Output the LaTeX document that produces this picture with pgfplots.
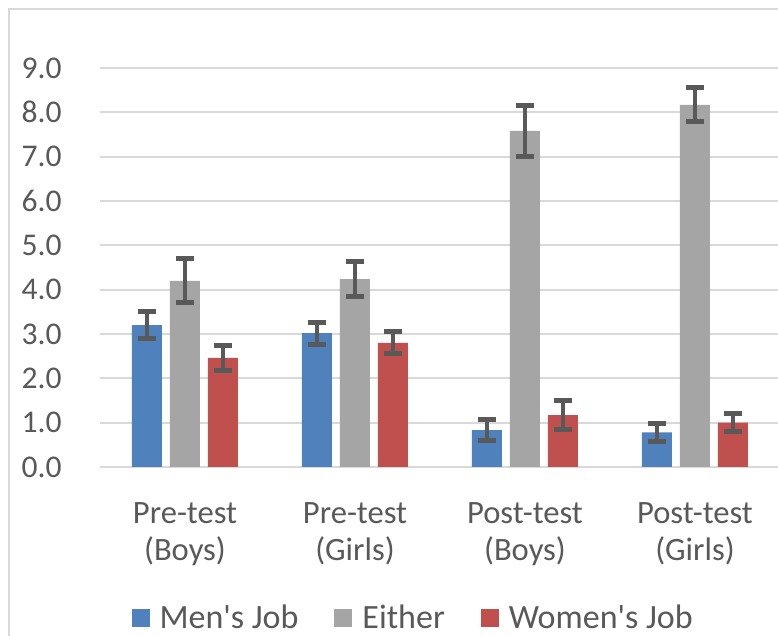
\documentclass[border=0pt]{standalone}
\usepackage{pgfplots}
\pgfplotsset{compat=1.18}
\usepackage{fontspec}
\setmainfont{Carlito}[Ligatures=TeXOff]
\definecolor{cblue}{HTML}{4F81BD}
\definecolor{cgray}{HTML}{A5A5A5}
\definecolor{cred}{HTML}{C0504D}
\definecolor{ctext}{HTML}{595959}
\definecolor{cgrid}{HTML}{D9D9D9}
\definecolor{cerr}{HTML}{595959}
\begin{document}
\begin{tikzpicture}
\useasboundingbox (0,0) rectangle (389pt,318pt);
\clip (0,0) rectangle (389pt,318pt);
\fill[white] (0,0) rectangle (389pt,318pt);
\draw[cgrid, line width=1pt] (4.5pt,-20pt) -- (4.5pt,313.5pt) -- (420pt,313.5pt);
\begin{axis}[
  at={(50pt,84.5pt)}, anchor=south west,
  scale only axis, width=340pt, height=199.5pt,
  xmin=-0.5, xmax=3.5, ymin=0, ymax=9,
  axis line style={draw=none},
  ymajorgrids, grid style={cgrid, line width=1pt},
  ytick={0,1,...,9},
  yticklabel style={anchor=east, inner sep=0pt, xshift=-19pt, text=ctext, font=\fontsize{15.8}{18}\selectfont},
  /pgf/number format/assume math mode=true,
  /pgf/number format/.cd, fixed, fixed zerofill, precision=1, /pgfplots/.cd,
  xtick={0,1,2,3},
  xticklabels={Pre-test\\(Boys), Pre-test\\(Girls), Post-test\\(Boys), Post-test\\(Girls)},
  xticklabel style={align=center, anchor=north, inner sep=0pt, yshift=-17.5pt, text=ctext, font=\fontsize{16.3}{18.5}\selectfont},
  major tick length=0pt,
  ybar=4pt, bar width=15pt,
  error bars/error bar style={cerr, line width=2pt},
  error bars/error mark options={cerr, line width=2.5pt, mark size=4.5pt, rotate=90},
  legend style={at={(0.459,-0.378)}, anchor=center, draw=none, fill=none,
    legend columns=3, font=\fontsize{17}{19}\selectfont, text=ctext,
    nodes={inner sep=0pt},
    /tikz/every even column/.append style={column sep=18pt},
    /tikz/every odd column/.append style={column sep=5pt}},
]
\addplot[fill=cblue, draw=none,
  error bars/.cd, y dir=both, y explicit,
  /pgfplots/.cd, legend image code/.code={\fill[cblue] (0pt,-4.5pt) rectangle (9pt,4.5pt);}]
  coordinates {(0,3.2) +- (0,0.3) (1,3.02) +- (0,0.25) (2,0.83) +- (0,0.23) (3,0.78) +- (0,0.2)};
\addplot[fill=cgray, draw=none,
  error bars/.cd, y dir=both, y explicit,
  /pgfplots/.cd, legend image code/.code={\fill[cgray] (0pt,-4.5pt) rectangle (9pt,4.5pt);}]
  coordinates {(0,4.2) +- (0,0.5) (1,4.24) +- (0,0.4) (2,7.58) +- (0,0.57) (3,8.17) +- (0,0.38)};
\addplot[fill=cred, draw=none,
  error bars/.cd, y dir=both, y explicit,
  /pgfplots/.cd, legend image code/.code={\fill[cred] (0pt,-4.5pt) rectangle (9pt,4.5pt);}]
  coordinates {(0,2.46) +- (0,0.28) (1,2.8) +- (0,0.25) (2,1.17) +- (0,0.32) (3,1.0) +- (0,0.2)};
\legend{Men's Job, Either, Women's Job}
\end{axis}
\end{tikzpicture}
\end{document}
